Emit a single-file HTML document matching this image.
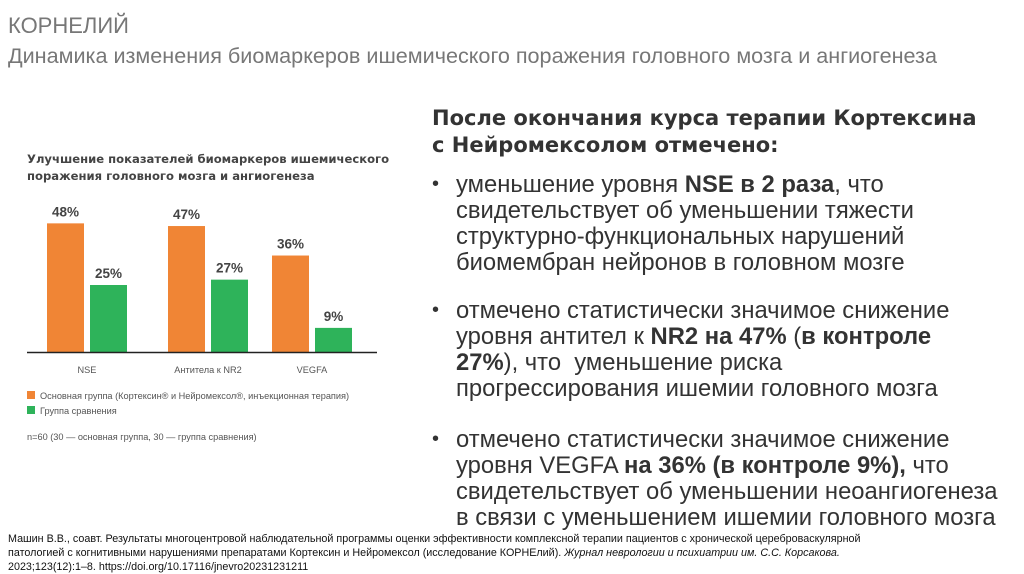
<!DOCTYPE html>
<html><head><meta charset="utf-8"><style>
body{margin:0;width:1024px;height:574px;background:#fff;position:relative;overflow:hidden;font-family:"Liberation Sans","DejaVu Sans",sans-serif;}
.a{position:absolute;white-space:nowrap;}
.t1{left:8px;top:13px;font-size:22px;color:#777;}
.t2{left:8px;top:43px;font-size:21.6px;color:#777;}
.h{left:432px;font-size:21px;font-weight:bold;color:#333;font-family:"DejaVu Sans",sans-serif;}
.b{left:456px;font-size:23.8px;color:#333;}
.dot{left:432px;font-size:20px;color:#333;}
.ref{left:8px;font-size:10.75px;color:#111;}
</style></head><body>
<div class="a t1">КОРНЕЛИЙ</div>
<div class="a t2">Динамика изменения биомаркеров ишемического поражения головного мозга и ангиогенеза</div>

<svg class="a" style="left:0;top:0" width="420" height="460">
<text x="27" y="163" font-size="11.6" font-weight="bold" fill="#444" font-family="DejaVu Sans, sans-serif">Улучшение показателей биомаркеров ишемического</text>
<text x="27" y="180" font-size="11.6" font-weight="bold" fill="#444" font-family="DejaVu Sans, sans-serif">поражения головного мозга и ангиогенеза</text>
<g id="bars"></g>
<line x1="27" y1="352.5" x2="377" y2="352.5" stroke="#222" stroke-width="1.5"/>
<rect x="27" y="391" width="8" height="8" fill="#f08535"/>
<text x="40" y="399" font-size="9.2" fill="#555">Основная группа (Кортексин® и Нейромексол®, инъекционная терапия)</text>
<rect x="27" y="406" width="8" height="8" fill="#2eb35a"/>
<text x="40" y="414" font-size="9.2" fill="#555">Группа сравнения</text>
<text x="27" y="440" font-size="9.2" fill="#555">n=60 (30 — основная группа, 30 — группа сравнения)</text>
</svg>

<div class="a h" style="top:106px">После окончания курса терапии Кортексина</div>
<div class="a h" style="top:133px">с Нейромексолом отмечено:</div>

<div class="a dot" style="top:173px">•</div>
<div class="a b" style="top:171px">уменьшение уровня <b>NSE в 2 раза</b>, что</div>
<div class="a b" style="top:197px">свидетельствует об уменьшении тяжести</div>
<div class="a b" style="top:223px">структурно-функциональных нарушений</div>
<div class="a b" style="top:249px">биомембран нейронов в головном мозге</div>

<div class="a dot" style="top:299px">•</div>
<div class="a b" style="top:297px">отмечено статистически значимое снижение</div>
<div class="a b" style="top:323px">уровня антител к <b>NR2 на 47%</b> (<b>в контроле</b></div>
<div class="a b" style="top:349px"><b>27%</b>), что&nbsp; уменьшение риска</div>
<div class="a b" style="top:375px">прогрессирования ишемии головного мозга</div>

<div class="a dot" style="top:428px">•</div>
<div class="a b" style="top:426px">отмечено статистически значимое снижение</div>
<div class="a b" style="top:452px">уровня VEGFA <b>на 36% (в контроле 9%),</b> что</div>
<div class="a b" style="top:478px">свидетельствует об уменьшении неоангиогенеза</div>
<div class="a b" style="top:504px">в связи с уменьшением ишемии головного мозга</div>

<div class="a ref" style="top:533px">Машин В.В., соавт. Результаты многоцентровой наблюдательной программы оценки эффективности комплексной терапии пациентов с хронической цереброваскулярной</div>
<div class="a ref" style="top:547px">патологией с когнитивными нарушениями препаратами Кортексин и Нейромексол (исследование КОРНЕлий). <i>Журнал неврологии и психиатрии им. С.С. Корсакова.</i></div>
<div class="a ref" style="top:561px">2023;123(12):1–8. https://doi.org/10.17116/jnevro20231231211</div>

<script>
const categories=["NSE","Антитела к NR2","VEGFA"];
const mainValues=[48,47,36];
const controlValues=[25,27,9];
const g=document.getElementById('bars');
const NS='http://www.w3.org/2000/svg';
const base=352, scale=2.68, groupX=[47,168,272], bw=37, gap=6;
function yOf(v){return base-v*scale;}
function mk(tag,attrs,txt){const e=document.createElementNS(NS,tag);for(const k in attrs)e.setAttribute(k,attrs[k]);if(txt!==undefined)e.textContent=txt;g.appendChild(e);return e;}
categories.forEach((c,i)=>{
  const x0=groupX[i];
  [[mainValues[i],'#f08535',x0,'main'],[controlValues[i],'#2eb35a',x0+bw+gap,'control']].forEach(([v,col,x,s])=>{
    const r=mk('rect',{x:x,y:yOf(v),width:bw,height:v*scale,fill:col});
    
    
    const t=mk('text',{x:x+bw/2,y:yOf(v)-7,'font-size':13.5,'font-weight':'bold','text-anchor':'middle',fill:'#444'},v+'%');
    
    
  });
  const l=mk('text',{x:x0+bw+gap/2,y:373,'font-size':9.2,'text-anchor':'middle',fill:'#555'},c);
  
  
});
</script>
</body></html>
